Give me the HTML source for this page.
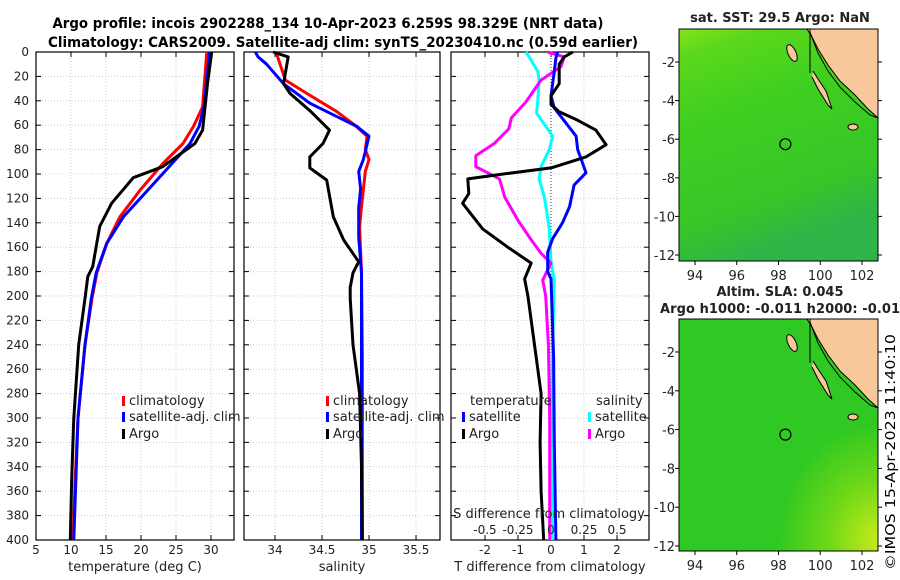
<!DOCTYPE html>
<html><head><meta charset="utf-8"><style>
body{margin:0;background:#fff;}
svg{display:block;font-family:"DejaVu Sans","Liberation Sans",sans-serif;}
</style></head><body>
<svg id="c" width="900" height="580" xmlns="http://www.w3.org/2000/svg">
<defs>
<linearGradient id="g1" x1="0" y1="0" x2="0.3" y2="1"><stop offset="0" stop-color="#86e21c"/><stop offset="0.12" stop-color="#5ad81c"/><stop offset="0.4" stop-color="#3fcf20"/><stop offset="0.8" stop-color="#36c628"/><stop offset="1" stop-color="#2db548"/></linearGradient>
<radialGradient id="g2" cx="1" cy="0.95" r="0.5"><stop offset="0" stop-color="#c8ea1a"/><stop offset="0.5" stop-color="#6ed818"/><stop offset="1" stop-color="#30c822"/></radialGradient>
</defs>
<g id="titles">
<text x="328" y="28" font-size="14" font-weight="bold" text-anchor="middle" textLength="551" lengthAdjust="spacingAndGlyphs">Argo profile: incois 2902288_134 10-Apr-2023 6.259S 98.329E (NRT data)</text>
<text x="343" y="47" font-size="14" font-weight="bold" text-anchor="middle" textLength="590" lengthAdjust="spacingAndGlyphs">Climatology: CARS2009. Satellite-adj clim: synTS_20230410.nc (0.59d earlier)</text>
</g>
<g id="maps"></g>
<g id="panels"></g>
<text transform="translate(895,452) rotate(-90)" font-size="13" text-anchor="middle" textLength="236" lengthAdjust="spacingAndGlyphs">©IMOS 15-Apr-2023 11:40:10</text>
</svg>
<script>
// ---- data (depth in m) ----
const tClimDepth=[0,45,61,75,91,113,135,157,181,202,240,300,350,400];
const tClimVal=[29.4,28.8,27.5,26.0,23.2,19.9,17.0,15.1,13.7,13.0,12.0,11.0,10.6,10.3];
const tSatDepth=[0,45,61,75,91,113,135,157,181,202,240,300,350,400];
const tSatVal=[29.8,29.0,28.3,27.0,24.5,21.0,17.5,15.1,13.6,12.9,12.0,11.0,10.7,10.4];
const tArgoDepth=[0,26,64,75,94,103,124,143,176,184,202,240,300,350,400];
const tArgoVal=[30.1,29.5,28.8,27.7,23.1,18.9,15.8,14.1,13.1,12.4,12.0,11.1,10.4,10.1,9.9];
const sClimDepth=[0,23,34,49,60,69,80,88,98,127,143,181,250,320,400];
const sClimVal=[34.01,34.11,34.34,34.66,34.85,34.98,34.96,35.0,34.96,34.92,34.9,34.92,34.93,34.93,34.93];
const sSatDepth=[0,4,10,26,42,53,61,69,88,98,112,128,152,181,250,320,400];
const sSatVal=[33.79,33.82,33.91,34.09,34.37,34.66,34.87,35.0,34.94,34.89,34.91,34.89,34.89,34.92,34.92,34.92,34.92];
const sArgoDepth=[0,4,26,34,48,64,75,86,95,105,135,154,172,181,193,202,240,280,340,400];
const sArgoVal=[33.98,34.14,34.09,34.16,34.37,34.58,34.51,34.37,34.37,34.55,34.62,34.73,34.89,34.83,34.8,34.8,34.83,34.9,34.92,34.93];
const dTArgoDepth=[0,4,10,26,36,43,49,56,64,76,86,95,101,104,116,124,145,160,173,186,200,240,280,320,360,400];
const dTArgoVal=[0.66,0.4,0.25,0.25,0,0,0.25,0.81,1.36,1.67,1.06,0,-1.72,-2.52,-2.49,-2.68,-2.07,-1.31,-0.6,-0.8,-0.7,-0.5,-0.3,-0.33,-0.3,-0.22];
const dTSatDepth=[0,5,16,36,46,58,69,80,99,109,127,140,153,164,180,186,250,320,400];
const dTSatVal=[0.2,0.15,0.1,0,0.1,0.45,0.76,0.81,1.06,0.7,0.56,0.35,0.05,-0.1,-0.1,0,0.08,0.1,0.15];
const dSArgoDepth=[0,4,12,23,41,54,63,75,85,94,104,119,138,154,165,173,187,200,240,300,400];
const dSArgoVal=[-0.025,0.1,0.076,-0.076,-0.19,-0.3,-0.32,-0.43,-0.57,-0.57,-0.39,-0.35,-0.25,-0.15,-0.076,0,-0.063,-0.04,-0.02,-0.01,-0.01];
const dSSatDepth=[0,5,16,23,40,50,69,80,94,104,119,145,172,187,250,320,400];
const dSSatVal=[-0.19,-0.16,-0.1,-0.09,-0.1,-0.11,0.013,-0.013,-0.076,-0.09,-0.05,-0.013,0,0.025,0.01,0.01,0.01];
const depthTicks=[0,20,40,60,80,100,120,140,160,180,200,220,240,260,280,300,320,340,360,380,400];
const tTicks=[5,10,15,20,25,30,35];
const sTicks=[34,34.5,35,35.5];
const dTTicks=[-2,-1,0,1,2];
const sDiffLabels=["-0.5","-0.25","0","0.25","0.5"];
const lonTicks=[94,96,98,100,102];
const latTicks=[-2,-4,-6,-8,-10,-12];

const NS="http://www.w3.org/2000/svg";
const svg=document.getElementById('c');
const panelsG=document.getElementById('panels');
const mapsG=document.getElementById('maps');
function mk(tag,attrs,parent){const e=document.createElementNS(NS,tag);for(const k in attrs)e.setAttribute(k,attrs[k]);(parent||panelsG).appendChild(e);return e;}
const Y0=52,Y1=540;
const yD=d=>Y0+(d/400)*(Y1-Y0);
function panel(x0,x1,vmin,vmax,name){
  const xf=v=>x0+(v-vmin)/(vmax-vmin)*(x1-x0);
  return {x0,x1,xf,name};
}
const P1=panel(36,234,5,33.286,'temperature');
const P2=panel(244,440,33.67,35.755,'salinity');
const P3=panel(451,649,-3.03,2.97,'t-diff');
function frame(P,xt,labels){
  const g=mk('g',{});
  
  
  depthTicks.forEach(d=>{mk('line',{x1:P.x0,x2:P.x1,y1:yD(d),y2:yD(d),stroke:'#c8cce6','stroke-width':1,'stroke-dasharray':'1,2'},g);});
  xt.forEach(v=>{mk('line',{x1:P.xf(v),x2:P.xf(v),y1:Y0,y2:Y1,stroke:'#c8cce6','stroke-width':1,'stroke-dasharray':'1,2'},g);});
  depthTicks.forEach(d=>{mk('line',{x1:P.x0,x2:P.x0+5,y1:yD(d),y2:yD(d),stroke:'#000'},g);mk('line',{x1:P.x1,x2:P.x1-5,y1:yD(d),y2:yD(d),stroke:'#000'},g);});
  xt.forEach(v=>{mk('line',{x1:P.xf(v),x2:P.xf(v),y1:Y1,y2:Y1-5,stroke:'#000'},g);mk('line',{x1:P.xf(v),x2:P.xf(v),y1:Y0,y2:Y0+5,stroke:'#000'},g);});
  mk('rect',{x:P.x0,y:Y0,width:P.x1-P.x0,height:Y1-Y0,fill:'none',stroke:'#000','stroke-width':1.2},g);
  if(labels){xt.forEach((v,i)=>{const t=mk('text',{x:P.xf(v),y:554,'font-size':12,'text-anchor':'middle',fill:'#222'},g);t.textContent=labels[i];});}
  return g;
}
function series(P,dep,val,color,name){
  const pts=dep.map((d,i)=>P.xf(val[i]).toFixed(1)+','+yD(d).toFixed(1)).join(' ');
  const e=mk('polyline',{points:pts,fill:'none',stroke:color,'stroke-width':3,'stroke-linejoin':'round'});
  
  
}
frame(P1,tTicks.filter(v=>v<34),tTicks.filter(v=>v<34).map(String));
frame(P2,sTicks,sTicks.map(String));
frame(P3,dTTicks,dTTicks.map(String));
const zl=mk('line',{x1:P3.xf(0),x2:P3.xf(0),y1:Y0,y2:Y1,stroke:'#333','stroke-width':1,'stroke-dasharray':'1,2'});


depthTicks.forEach(d=>{const t=mk('text',{x:29,y:yD(d)+4,'font-size':12,'text-anchor':'end',fill:'#222'});t.textContent=d;});
series(P1,tClimDepth,tClimVal,'#ff0000','temp-climatology-line');
series(P1,tSatDepth,tSatVal,'#0000ff','temp-satellite-line');
series(P1,tArgoDepth,tArgoVal,'#000000','temp-argo-line');
series(P2,sClimDepth,sClimVal,'#ff0000','sal-climatology-line');
series(P2,sSatDepth,sSatVal,'#0000ff','sal-satellite-line');
series(P2,sArgoDepth,sArgoVal,'#000000','sal-argo-line');
const P3s={xf:v=>P3.xf(v*4)};
series(P3s,dSSatDepth,dSSatVal,'#00ffff','sdiff-satellite-line');
series(P3s,dSArgoDepth,dSArgoVal,'#ff00ff','sdiff-argo-line');
series(P3,dTSatDepth,dTSatVal,'#0000ff','tdiff-satellite-line');
series(P3,dTArgoDepth,dTArgoVal,'#000000','tdiff-argo-line');
function txt(x,y,s,name,opts){const t=mk('text',Object.assign({x:x,y:y,'font-size':13,fill:'#222'},opts||{}));t.textContent=s;return t;}
txt(135,571,'temperature (deg C)','x-axis-title-temperature',{'text-anchor':'middle'});
txt(342,571,'salinity','x-axis-title-salinity',{'text-anchor':'middle'});
txt(550,571,'T difference from climatology','x-axis-title-tdiff',{'text-anchor':'middle'});
txt(549,518,'S difference from climatology','s-diff-axis-title',{'text-anchor':'middle'});
[-0.5,-0.25,0,0.25,0.5].forEach((v,i)=>txt(P3.xf(v*4),534,sDiffLabels[i],'s-diff-tick-label',{'text-anchor':'middle','font-size':12}));
function leg(x,y,color,label,name){const r=mk('rect',{x:x,y:y-9,width:3,height:10,fill:color});txt(x+7,y,label,name,{'font-size':13});}
leg(122,405,'#ff0000','climatology','legend-climatology');
leg(122,421,'#0000ff','satellite-adj. clim','legend-satellite');
leg(122,438,'#000000','Argo','legend-argo');
leg(326,405,'#ff0000','climatology','legend2-climatology');
leg(326,421,'#0000ff','satellite-adj. clim','legend2-satellite');
leg(326,438,'#000000','Argo','legend2-argo');
txt(470,405,'temperature','legend3-temperature-header',{'font-size':13});
leg(462,421,'#0000ff','satellite','legend3-t-satellite');
leg(462,438,'#000000','Argo','legend3-t-argo');
txt(596,405,'salinity','legend3-salinity-header',{'font-size':13});
leg(588,421,'#00ffff','satellite','legend3-s-satellite');
leg(588,438,'#ff00ff','Argo','legend3-s-argo');
function map(yTop,yBot,latM2,latM12,fill,name){
  const g=mk('g',{},mapsG);
  
  
  const x0=679,x1=878;
  const lonX=l=>695+(l-94)*(862-695)/8;
  const latY=l=>latM2+(l+2)*(latM12-latM2)/-10;
  mk('rect',{x:x0,y:yTop,width:x1-x0,height:yBot-yTop,fill:fill},g);
  const o=yTop;
  mk('polygon',{points:`807,${o} 878,${o} 878,${o+89} 868,${o+80} 855,${o+66} 840,${o+52} 828,${o+36} 818,${o+20} 812,${o+8}`,fill:'#f8c89a',stroke:'#000','stroke-width':1},g);
  mk('polyline',{points:`810,${o+3} 818,${o+24} 828,${o+42} 840,${o+58} 855,${o+73} 870,${o+86} 878,${o+89}`,fill:'none',stroke:'#000','stroke-width':1},g);
  mk('line',{x1:810,y1:o,x2:810,y2:o+44,stroke:'#000'},g);
  mk('polyline',{points:`813,${o+42} 818,${o+50} 826,${o+62} 832,${o+80} 828,${o+76} 818,${o+60} 812,${o+48}`,fill:'#f8c89a',stroke:'#000'},g);
  mk('ellipse',{cx:792,cy:o+24,rx:4,ry:9,fill:'#f8c89a',stroke:'#000',transform:`rotate(-25 792 ${o+24})`},g);
  mk('ellipse',{cx:853,cy:o+98,rx:5,ry:3,fill:'#f8c89a',stroke:'#000'},g);
  const c=mk('circle',{cx:lonX(98.329),cy:latY(-6.259),r:5.5,fill:'none',stroke:'#000','stroke-width':1.2},g);
  
  
  mk('rect',{x:x0,y:yTop,width:x1-x0,height:yBot-yTop,fill:'none',stroke:'#000'},g);
  latTicks.forEach(l=>{mk('line',{x1:x0,x2:x0-4,y1:latY(l),y2:latY(l),stroke:'#000'},g);mk('line',{x1:x1,x2:x1+4,y1:latY(l),y2:latY(l),stroke:'#000'},g);const t=txt(675,latY(l)+5,String(l),'lat-tick-label',{'text-anchor':'end','font-size':13});g.appendChild(t);});
  lonTicks.forEach(l=>{mk('line',{x1:lonX(l),x2:lonX(l),y1:yBot,y2:yBot+4,stroke:'#000'},g);const t=txt(lonX(l),yBot+19,String(l),'lon-tick-label',{'text-anchor':'middle','font-size':13});g.appendChild(t);});
}
map(29,261,62,255,'url(#g1)','sst-map');
map(319,551,352,546,'url(#g2)','sla-map');
txt(780,22,'sat. SST: 29.5 Argo: NaN','sst-map-title',{'text-anchor':'middle','font-weight':'bold'});
txt(780,296,'Altim. SLA: 0.045','sla-map-title',{'text-anchor':'middle','font-weight':'bold'});
txt(660,313,'Argo h1000: -0.011 h2000: -0.01','argo-height-title',{'font-weight':'bold','textLength':240});
</script>
</body></html>
